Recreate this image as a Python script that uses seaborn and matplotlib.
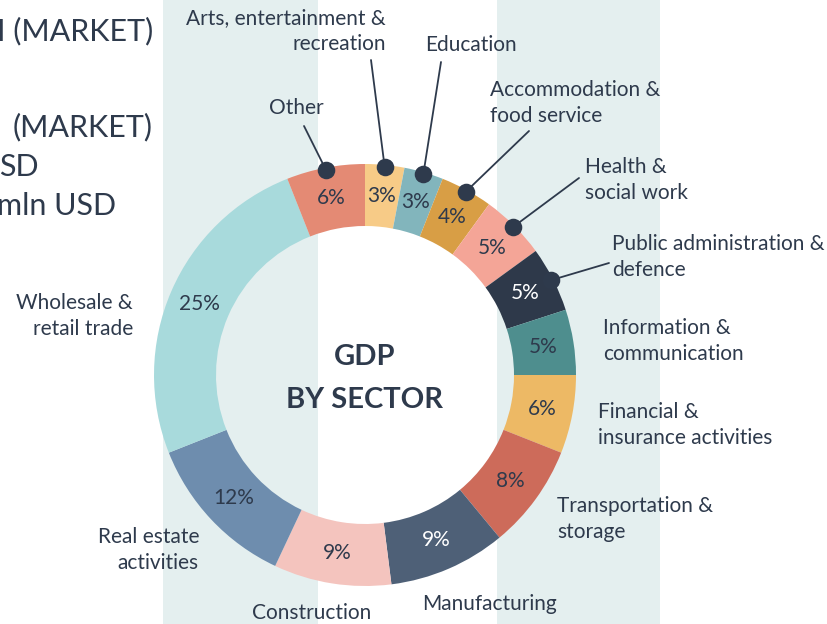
import numpy as np
import matplotlib
matplotlib.use("Agg")
import matplotlib.pyplot as plt
import seaborn as sns
from matplotlib.patches import Rectangle

#  Data (clockwise from 12 o'clock)
sectors = ["Arts, entertainment &\nrecreation", "Education", "Accommodation &\nfood service",
           "Health &\nsocial work", "Public administration &\ndefence", "Information &\ncommunication",
           "Financial &\ninsurance activities", "Transportation &\nstorage", "Manufacturing",
           "Construction", "Real estate\nactivities", "Wholesale &\nretail trade", "Other"]
shares = [3, 3, 4, 5, 5, 5, 6, 8, 9, 9, 12, 25, 6]
colors = ["#F7CB87", "#82B5BC", "#D89E45", "#F4A597", "#2E394A", "#4E8E8E",
          "#EDB965", "#CD6B5A", "#4E6077", "#F4C4BE", "#6E8DAE", "#A8DADC", "#E48A74"]
pct_white = ["Public administration &\ndefence", "Manufacturing"]
dotted = ["Other", "Arts, entertainment &\nrecreation", "Education", "Accommodation &\nfood service",
          "Health &\nsocial work", "Public administration &\ndefence"]

side_texts = ["I (MARKET)", "(MARKET)", "SD", "mln USD"]

sns.set_theme(style="white")
plt.rcParams['font.family'] = ['Lato', 'DejaVu Sans']
INK = "#2E3A4C"

W, H = 827, 624
def Y(p):
    return H - p

fig = plt.figure(figsize=(W / 100, H / 100), dpi=100)
ax = fig.add_axes([0, 0, 1, 1])

# background bands
for x0, x1 in [(163, 318), (497, 660)]:
    ax.add_patch(Rectangle((x0, 0), x1 - x0, H, color="#E4EFEF", zorder=0, lw=0))

cx, cy = 365, Y(375)
R, RIN = 211, 149
wedges, _, autotexts = ax.pie(shares, colors=colors, startangle=90, counterclock=False,
                              radius=R, center=(cx, cy), frame=True,
                              autopct=lambda p: f"{p:.0f}%", pctdistance=(R + RIN) / 2 / R,
                              wedgeprops=dict(width=R - RIN, linewidth=0),
                              textprops=dict(fontsize=15, color=INK))
ax.set_xlim(0, W); ax.set_ylim(0, H)
ax.axis('off')
for name, t in zip(sectors, autotexts):
    if name in pct_white:
        t.set_color("white")

# label placement: (x, y, ha, leader end)
labels = {
    sectors[0]: (386, 31, 'right', (371, 60)),
    sectors[1]: (425, 45, 'left', (441, 62)),
    sectors[2]: (490, 103, 'left', (529, 131)),
    sectors[3]: (585, 180, 'left', (579, 178)),
    sectors[4]: (612, 257, 'left', (609, 263)),
    sectors[5]: (603, 341, 'left', None),
    sectors[6]: (598, 425, 'left', None),
    sectors[7]: (557, 519, 'left', None),
    sectors[8]: (490, 604, 'center', None),
    sectors[9]: (312, 613, 'center', None),
    sectors[10]: (199, 550, 'right', None),
    sectors[11]: (133, 316, 'right', None),
    sectors[12]: (296, 108, 'center', (304, 126)),
}

cum = np.cumsum([0] + shares)
for i, name in enumerate(sectors):
    lx, ly, ha, end = labels[name]
    ax.text(lx, Y(ly), name, ha=ha, va='center', fontsize=15, color=INK, linespacing=1.4)
    if name in dotted:
        mid = 90 - (cum[i] + shares[i] / 2) / 100 * 360
        dx = cx + (R - 2) * np.cos(np.radians(mid))
        dy = cy + (R - 2) * np.sin(np.radians(mid))
        ax.plot([dx, end[0]], [dy, Y(end[1])], color=INK, lw=1.3, zorder=5)
        ax.scatter([dx], [dy], s=160, color=INK, zorder=6, lw=0)

ax.text(cx, Y(357), "GDP", ha='center', va='center', fontsize=21, fontweight='bold', color=INK)
ax.text(cx, Y(400), "BY SECTOR", ha='center', va='center', fontsize=21, fontweight='bold', color=INK)

# cut-off text from neighbouring panel
for txt, (x, y) in zip(side_texts, [(-3, 31), (13, 127), (-1, 167), (-3, 206)]):
    ax.text(x, Y(y), txt, ha='left', va='center', fontsize=22, color=INK)

fig.savefig("out.png", dpi=100)
